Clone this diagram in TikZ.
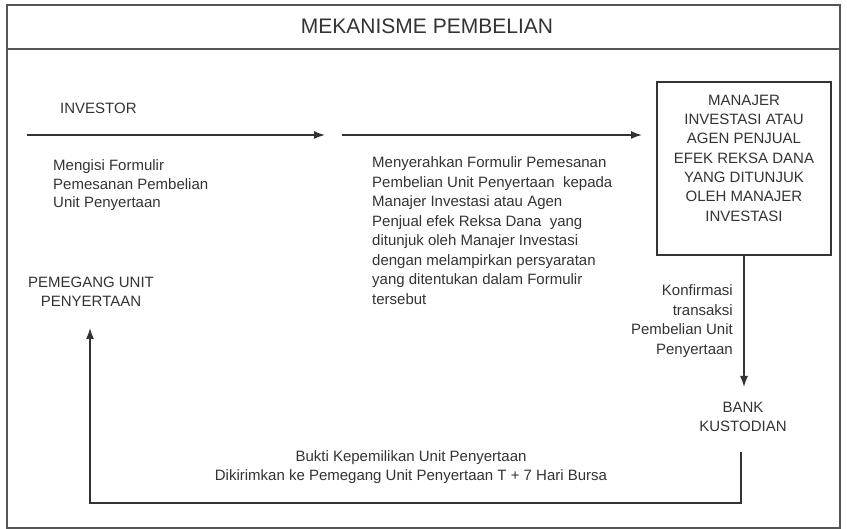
\documentclass[tikz,border=0pt]{standalone}
\usepackage{fontspec}
\setmainfont{Liberation Sans}
\usetikzlibrary{arrows.meta,positioning}
\definecolor{ink}{HTML}{333333}
\definecolor{rim}{HTML}{555555}
\tikzstyle{txt} = [text=ink, inner sep=0pt, font=\fontsize{15}{19.5}\selectfont]
\tikzstyle{boxtxt} = [text=ink, inner sep=0pt, align=center,
font=\fontsize{15}{19.3}\selectfont]
\tikzstyle{mibox} = [draw=ink, line width=1.6pt, minimum width=174pt,
minimum height=173pt, inner sep=0pt]
\tikzstyle{flow} = [draw=ink, line width=1.5pt]
\tikzstyle{frame} = [draw=rim, line width=1.8pt]
\tikzset{>={Latex[length=11pt,width=8pt]}}

\begin{document}
\begin{tikzpicture}[x=1pt, y=-1pt]
            \useasboundingbox (0,0) rectangle (847,529);
            % outer frame and title band
            \draw[frame] (7,5) rectangle (840,528);
            \draw[frame] (7,49) -- (840,49);
            \node[txt, font=\fontsize{21}{24}\selectfont] (title) at (427,26) {MEKANISME PEMBELIAN};
            % investor side
            \node[txt, anchor=west] (inv) at (60,108) {INVESTOR};
            \coordinate (a1s) at (27,135);
            \coordinate (a1e) at (325,135);
            \draw[flow, ->] (a1s) -- (a1e);
            \node[txt, anchor=north west, align=left,
            font=\fontsize{15}{18.5}\selectfont] (isi) at (53,159.5)
            {Mengisi Formulir\\Pemesanan Pembelian\\Unit Penyertaan};
            \coordinate (a2s) at (342,135);
            \coordinate (a2e) at (642,135);
            \draw[flow, ->] (a2s) -- (a2e);
            \node[txt, anchor=north west, align=left] (serah) at (372,156.5)
            {Menyerahkan Formulir Pemesanan\\Pembelian Unit Penyertaan\ \ kepada\\
             Manajer Investasi atau Agen\\Penjual efek Reksa Dana\ \ yang\\
             ditunjuk oleh Manajer Investasi\\dengan melampirkan persyaratan\\
             yang ditentukan dalam Formulir\\tersebut};
            % manajer investasi
            \node[mibox] (mi) at (744,168.5) {};
            \node[boxtxt, below=13.5pt of mi.north] (mitxt)
            {MANAJER\\INVESTASI ATAU\\AGEN PENJUAL\\EFEK REKSA DANA\\YANG DITUNJUK\\OLEH MANAJER\\INVESTASI};
            \coordinate (kbend) at (744,387);
            \draw[flow, ->] (mi.south) -- (kbend);
            \node[txt, anchor=north east, align=right] (konf) at (733,284.5)
            {Konfirmasi\\transaksi\\Pembelian Unit\\Penyertaan};
            % bank kustodian
            \node[txt, align=center, anchor=north] (bank) at (743,401.5) {BANK\\KUSTODIAN};
            % pemegang unit
            \node[txt, align=center, anchor=north] (pmg) at (91,276.5) {PEMEGANG UNIT\\PENYERTAAN};
            \coordinate (bkout) at (741,452);
            \coordinate (bkturn) at (741,503);
            \coordinate (pgin) at (90,328);
            \draw[flow, ->] (bkout) -- (bkturn) -| (pgin);
            \node[txt, align=center, anchor=north] (bukti) at (411,450)
            {Bukti Kepemilikan Unit Penyertaan\\Dikirimkan ke Pemegang Unit Penyertaan T + 7 Hari Bursa};
        \end{tikzpicture}
\end{document}
